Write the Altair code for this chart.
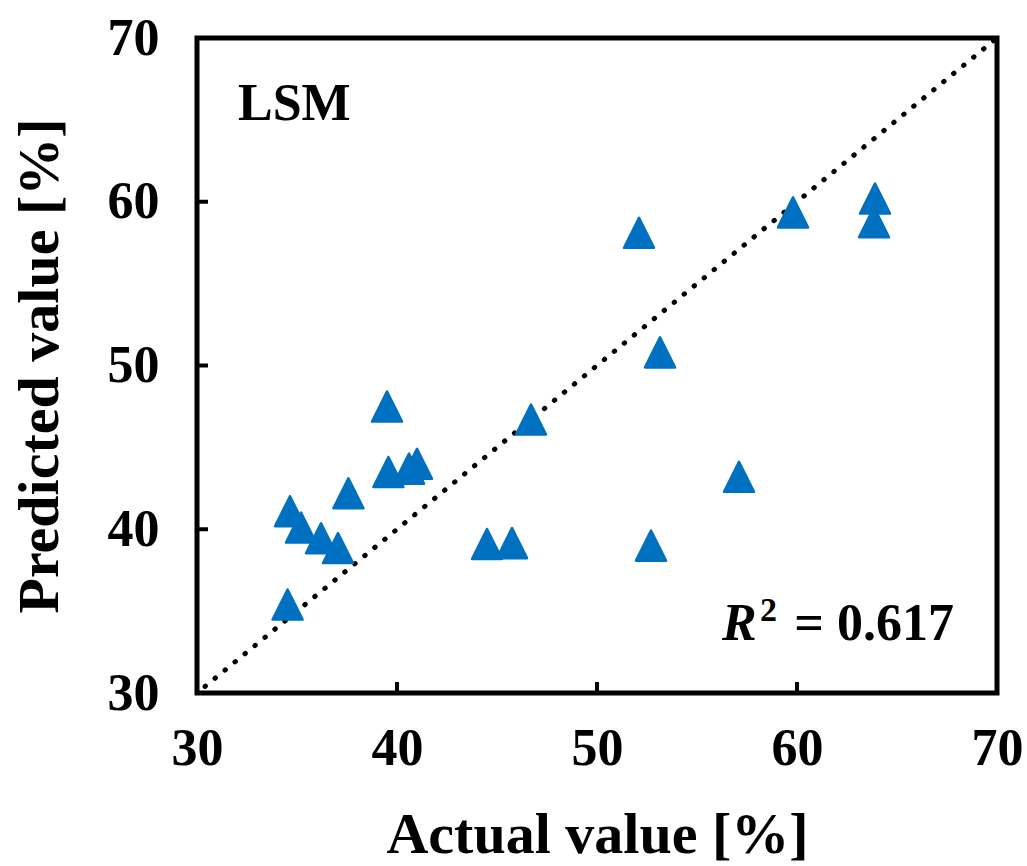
import altair as alt
import pandas as pd

# Measured vs. model-predicted values (LSM)
actual = [34.53, 34.65, 35.2, 36.2, 37.05, 37.57, 39.5, 39.57, 40.6, 41.0,
          44.5, 45.75, 46.7, 52.1, 52.7, 53.15, 57.1, 59.8, 63.9, 63.85]
predicted = [35.4, 41.1, 40.1, 39.45, 38.85, 42.2, 47.5, 43.5, 43.7, 44.0,
             39.1, 39.15, 46.7, 58.1, 39.0, 50.8, 43.2, 59.35, 60.2, 58.75]

# 1:1 reference line
diag = [30.4, 70]
tick_values = [40, 50, 60]
axis_values = [30, 40, 50, 60, 70]

FONT = "Liberation Serif"
BLUE = "#0070C0"
W, H = 800, 655

points_df = pd.DataFrame({"actual": actual, "predicted": predicted})
diag_df = pd.DataFrame({"actual": diag, "predicted": diag})
ticks_df = pd.DataFrame({"v": tick_values})

xscale = alt.Scale(domain=[30, 70], nice=False)
yscale = alt.Scale(domain=[30, 70], nice=False)

xaxis = alt.Axis(values=axis_values, ticks=False, grid=False, domain=False,
                 labelFlush=False, labelOverlap=False,
                 labelFont=FONT, labelFontSize=52, labelFontWeight="bold",
                 labelColor="black", labelPadding=30,
                 title="Actual value [%]", titleFont=FONT, titleFontSize=58,
                 titleFontWeight="bold", titleColor="black", titlePadding=32)
yaxis = alt.Axis(values=axis_values, ticks=False, grid=False, domain=False,
                 labelFlush=False, labelOverlap=False,
                 labelFont=FONT, labelFontSize=52, labelFontWeight="bold",
                 labelColor="black", labelPadding=38,
                 title="Predicted value [%]", titleFont=FONT, titleFontSize=58,
                 titleFontWeight="bold", titleColor="black", titlePadding=38)

line = alt.Chart(diag_df).mark_line(
    color="black", strokeWidth=5, strokeCap="round", strokeDash=[0.5, 12.4]
).encode(
    x=alt.X("actual:Q", scale=xscale, axis=xaxis),
    y=alt.Y("predicted:Q", scale=yscale, axis=yaxis),
)

pts = alt.Chart(points_df).mark_point(
    shape="M-1,1L1,1L0,-1Z", filled=True, size=900, fill=BLUE, stroke=BLUE,
    strokeWidth=2.5, strokeJoin="round", opacity=1
).encode(
    x=alt.X("actual:Q", scale=xscale),
    y=alt.Y("predicted:Q", scale=yscale),
)

# Inward tick marks on the bottom and left edges
xticks = alt.Chart(ticks_df).mark_rule(color="black", strokeWidth=4).encode(
    x=alt.X("v:Q", scale=xscale), y=alt.value(H), y2=alt.value(H - 11)
)
yticks = alt.Chart(ticks_df).mark_rule(color="black", strokeWidth=4).encode(
    y=alt.Y("v:Q", scale=yscale), x=alt.value(0), x2=alt.value(11)
)

lsm = alt.Chart(pd.DataFrame({"t": ["LSM"]})).mark_text(
    font=FONT, fontSize=52, fontWeight="bold", align="left", baseline="alphabetic",
    color="black"
).encode(text="t:N", x=alt.value(41), y=alt.value(82))

r_txt = alt.Chart(pd.DataFrame({"t": ["R"]})).mark_text(
    font=FONT, fontSize=52, fontWeight="bold", fontStyle="italic", align="left",
    baseline="alphabetic", color="black"
).encode(text="t:N", x=alt.value(525), y=alt.value(602))

sup_txt = alt.Chart(pd.DataFrame({"t": ["2"]})).mark_text(
    font=FONT, fontSize=34, fontWeight="bold", align="left",
    baseline="alphabetic", color="black"
).encode(text="t:N", x=alt.value(563), y=alt.value(583))

val_txt = alt.Chart(pd.DataFrame({"t": ["= 0.617"]})).mark_text(
    font=FONT, fontSize=52, fontWeight="bold", align="right",
    baseline="alphabetic", color="black"
).encode(text="t:N", x=alt.value(757), y=alt.value(602))

chart = alt.layer(line, xticks, yticks, pts, lsm, r_txt, sup_txt, val_txt).properties(
    width=W, height=H,
    autosize=alt.AutoSizeParams(type="none"),
    padding={"left": 197, "top": 38, "right": 30, "bottom": 173},
    background="white",
).configure_view(stroke="black", strokeWidth=5)

chart.save("out.html", embed_options={"renderer": "svg", "actions": False})
